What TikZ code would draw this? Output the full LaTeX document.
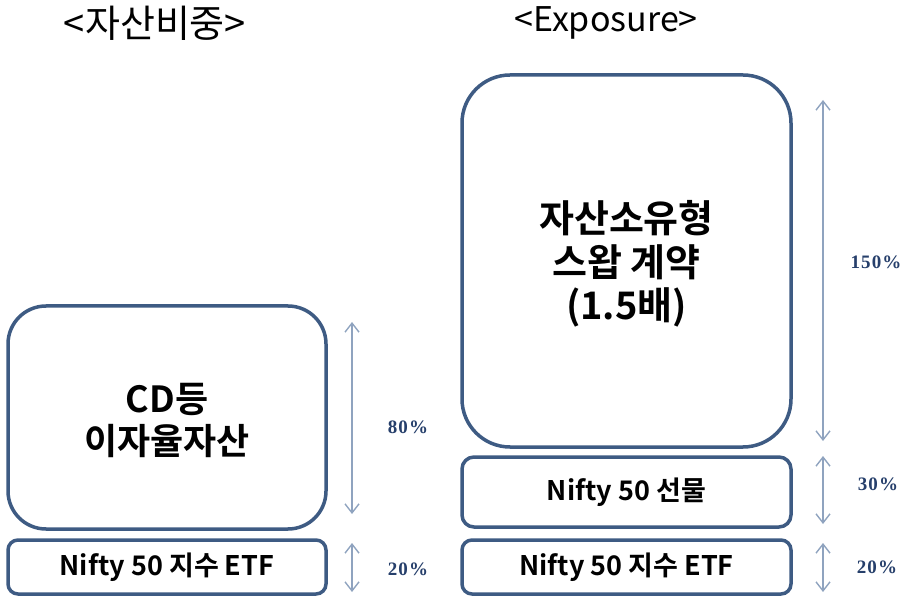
\documentclass[tikz,border=0pt]{standalone}
\usepackage{fontspec}
\newfontfamily\kr{Noto Sans CJK KR}
\newfontfamily\krb{Noto Sans CJK KR Bold}
\newfontfamily\pctfont[LetterSpace=6]{Liberation Serif}
\usetikzlibrary{arrows.meta}
\definecolor{boxline}{HTML}{3E5B83}
\definecolor{arrowc}{HTML}{8FA3BF}
\definecolor{pctc}{HTML}{263F6B}
\tikzset{
  box/.style={draw=boxline, line width=3.5pt, fill=white, align=center, inner sep=0pt},
  lefttext/.style={align=center, inner sep=0pt, font=\krb\fontsize{36}{42}\selectfont},
  righttext/.style={align=center, inner sep=0pt, font=\krb\fontsize{38}{43.5}\selectfont},
  smalltext/.style={font=\krb\fontsize{27}{30}\selectfont},
  title/.style={font=\kr\fontsize{38}{42}\selectfont},
  titlee/.style={font=\kr\fontsize{34}{38}\selectfont},
  dim/.style={draw=arrowc, line width=1.4pt, {Straight Barb[length=9pt,width=14pt,line width=1.4pt]}-{Straight Barb[length=9pt,width=14pt,line width=1.4pt]}},
  pct/.style={text=pctc, font=\pctfont\bfseries\fontsize{19}{20}\selectfont}
}
\begin{document}
\begin{tikzpicture}[x=1pt,y=-1pt]
\useasboundingbox (0,0) rectangle (913,601);
% titles
\node[title] (t1) at (155,23) {<자산비중>};
\node[titlee] (t2) at (606,23) {<Exposure>};
% left boxes
\node[box, rounded corners=38pt, minimum width=318pt, minimum height=223pt] (cd) at (167,417.5) {};
\node[lefttext] (cdtext) at ([yshift=-3pt]cd.center) {CD등\\이자율자산};
\node[box, smalltext, rounded corners=10pt, minimum width=318pt, minimum height=54pt] (etfl) at (167,567) {Nifty 50 지수 ETF};
% right boxes
\node[box, rounded corners=48pt, minimum width=329pt, minimum height=372pt] (swap) at (626.5,261) {};
\node[righttext] (swaptext) at ([yshift=-3pt]swap.center) {자산소유형\\스왑 계약\\(1.5배)};
\node[box, smalltext, rounded corners=12pt, minimum width=329pt, minimum height=70pt] (fut) at (626.5,492) {Nifty 50 선물};
\node[box, smalltext, rounded corners=10pt, minimum width=329pt, minimum height=54pt] (etfr) at (626.5,567) {Nifty 50 지수 ETF};
% dimension coordinates
\coordinate (a1t) at (352,322); \coordinate (a1b) at (352,514);
\coordinate (a2t) at (352,543); \coordinate (a2b) at (352,592);
\coordinate (b1t) at (823,100); \coordinate (b1b) at (823,441);
\coordinate (b2t) at (823,456); \coordinate (b2b) at (823,524);
\coordinate (b3t) at (823,543); \coordinate (b3b) at (823,592);
\draw[dim] (a1t) -- (a1b);
\draw[dim] (a2t) -- (a2b);
\draw[dim] (b1t) -- (b1b);
\draw[dim] (b2t) -- (b2b);
\draw[dim] (b3t) -- (b3b);
% labels
\node[pct] (p80) at (408,427) {80\%};
\node[pct] (p20l) at (408,569) {20\%};
\node[pct] (p150) at (876,262) {150\%};
\node[pct] (p30) at (878,484) {30\%};
\node[pct] (p20r) at (877,567) {20\%};
\end{tikzpicture}
\end{document}
